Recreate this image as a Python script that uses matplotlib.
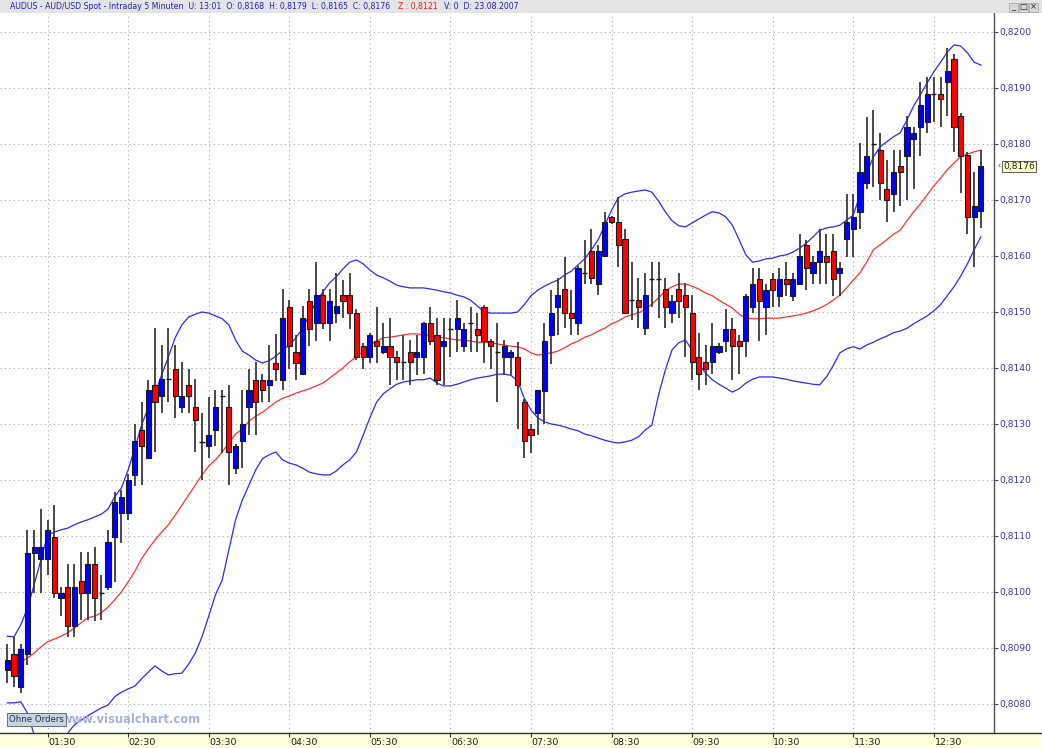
import matplotlib
matplotlib.use("Agg")
import matplotlib.pyplot as plt
import matplotlib.transforms as mtransforms
from matplotlib.patches import Rectangle
import numpy as np
import pandas as pd

# AUD/USD 5-minute candles, 23.08.2007, first candle 01:00
OPEN = [0.80860, 0.80889, 0.80831, 0.80889, 0.81069, 0.81059, 0.81059, 0.81099, 0.80989, 0.81009,
        0.80939, 0.81020, 0.80999, 0.81050, 0.80999, 0.81009, 0.81099, 0.81141, 0.81141, 0.81209,
        0.81290, 0.81240, 0.81370, 0.81350, 0.81380, 0.81399, 0.81330, 0.81370, 0.81330, 0.81268,
        0.81261, 0.81290, 0.81350, 0.81330, 0.81221, 0.81270, 0.81330, 0.81379, 0.81379, 0.81370,
        0.81409, 0.81379, 0.81509, 0.81429, 0.81389, 0.81520, 0.81480, 0.81530, 0.81480, 0.81499,
        0.81530, 0.81530, 0.81499, 0.81440, 0.81419, 0.81449, 0.81429, 0.81440, 0.81419, 0.81410,
        0.81429, 0.81419, 0.81419, 0.81480, 0.81459, 0.81440, 0.81469, 0.81469, 0.81440, 0.81480,
        0.81469, 0.81509, 0.81449, 0.81429, 0.81419, 0.81419, 0.81419, 0.81340, 0.81291, 0.81319,
        0.81359, 0.81459, 0.81509, 0.81541, 0.81499, 0.81480, 0.81570, 0.81609, 0.81550, 0.81600,
        0.81669, 0.81660, 0.81630, 0.81521, 0.81521, 0.81471, 0.81559, 0.81559, 0.81541, 0.81499,
        0.81541, 0.81530, 0.81499, 0.81420, 0.81410, 0.81410, 0.81429, 0.81449, 0.81470, 0.81449,
        0.81449, 0.81509, 0.81559, 0.81509, 0.81559, 0.81529, 0.81559, 0.81529, 0.81550, 0.81620,
        0.81569, 0.81590, 0.81600, 0.81609, 0.81569, 0.81630, 0.81649, 0.81679, 0.81730, 0.81800,
        0.81790, 0.81720, 0.81710, 0.81761, 0.81779, 0.81809, 0.81830, 0.81840, 0.81890, 0.81890,
        0.81910, 0.81951, 0.81850, 0.81780, 0.81669, 0.8168]
HIGH = [0.80908, 0.80920, 0.80907, 0.81110, 0.81111, 0.81149, 0.81129, 0.81155, 0.81009, 0.81050,
        0.81050, 0.81071, 0.81071, 0.81080, 0.81030, 0.81111, 0.81179, 0.81182, 0.81211, 0.81300,
        0.81340, 0.81379, 0.81471, 0.81441, 0.81471, 0.81441, 0.81411, 0.81399, 0.81380, 0.81320,
        0.81349, 0.81361, 0.81361, 0.81370, 0.81265, 0.81361, 0.81399, 0.81411, 0.81390, 0.81441,
        0.81461, 0.81541, 0.81521, 0.81459, 0.81511, 0.81541, 0.81590, 0.81541, 0.81541, 0.81570,
        0.81557, 0.81570, 0.81505, 0.81445, 0.81462, 0.81509, 0.81480, 0.81489, 0.81430, 0.81459,
        0.81450, 0.81459, 0.81482, 0.81509, 0.81489, 0.81489, 0.81489, 0.81521, 0.81480, 0.81509,
        0.81498, 0.81512, 0.81452, 0.81480, 0.81450, 0.81432, 0.81446, 0.81345, 0.81300, 0.81361,
        0.81480, 0.81539, 0.81560, 0.81599, 0.81539, 0.81582, 0.81629, 0.81649, 0.81620, 0.81679,
        0.81672, 0.81706, 0.81649, 0.81590, 0.81560, 0.81569, 0.81590, 0.81590, 0.81560, 0.81530,
        0.81570, 0.81551, 0.81530, 0.81462, 0.81441, 0.81480, 0.81445, 0.81505, 0.81489, 0.81459,
        0.81532, 0.81579, 0.81579, 0.81550, 0.81569, 0.81579, 0.81590, 0.81569, 0.81640, 0.81629,
        0.81600, 0.81649, 0.81640, 0.81640, 0.81590, 0.81711, 0.81711, 0.81802, 0.81849, 0.81861,
        0.81820, 0.81771, 0.81790, 0.81790, 0.81850, 0.81830, 0.81911, 0.81919, 0.81920, 0.81920,
        0.81971, 0.81961, 0.81855, 0.81785, 0.81750, 0.8179]
LOW = [0.80838, 0.80831, 0.80819, 0.80870, 0.80999, 0.80999, 0.81030, 0.80989, 0.80958, 0.80920,
       0.80919, 0.80950, 0.80950, 0.80949, 0.80950, 0.81003, 0.81018, 0.81088, 0.81129, 0.81190,
       0.81191, 0.81240, 0.81250, 0.81320, 0.81340, 0.81310, 0.81320, 0.81320, 0.81250, 0.81200,
       0.81239, 0.81261, 0.81248, 0.81191, 0.81211, 0.81221, 0.81280, 0.81280, 0.81340, 0.81340,
       0.81376, 0.81360, 0.81399, 0.81379, 0.81389, 0.81440, 0.81449, 0.81470, 0.81449, 0.81480,
       0.81489, 0.81470, 0.81415, 0.81399, 0.81409, 0.81409, 0.81425, 0.81370, 0.81379, 0.81379,
       0.81370, 0.81388, 0.81389, 0.81441, 0.81370, 0.81370, 0.81420, 0.81429, 0.81429, 0.81429,
       0.81429, 0.81409, 0.81399, 0.81340, 0.81388, 0.81388, 0.81291, 0.81239, 0.81248, 0.81280,
       0.81300, 0.81408, 0.81459, 0.81471, 0.81459, 0.81459, 0.81550, 0.81550, 0.81530, 0.81598,
       0.81658, 0.81581, 0.81499, 0.81485, 0.81471, 0.81459, 0.81509, 0.81490, 0.81471, 0.81480,
       0.81490, 0.81420, 0.81379, 0.81361, 0.81370, 0.81389, 0.81425, 0.81429, 0.81379, 0.81389,
       0.81419, 0.81499, 0.81449, 0.81459, 0.81509, 0.81509, 0.81529, 0.81520, 0.81548, 0.81539,
       0.81550, 0.81550, 0.81550, 0.81529, 0.81529, 0.81599, 0.81599, 0.81649, 0.81720, 0.81724,
       0.81700, 0.81660, 0.81679, 0.81690, 0.81700, 0.81720, 0.81779, 0.81820, 0.81840, 0.81830,
       0.81850, 0.81786, 0.81712, 0.81639, 0.81580, 0.8165]
CLOSE = [0.80879, 0.80850, 0.80899, 0.81069, 0.81080, 0.81080, 0.81110, 0.80999, 0.80999, 0.80939,
         0.81009, 0.80999, 0.81050, 0.80989, 0.80999, 0.81090, 0.81161, 0.81170, 0.81200, 0.81270,
         0.81261, 0.81361, 0.81340, 0.81380, 0.81380, 0.81350, 0.81350, 0.81350, 0.81308, 0.81268,
         0.81280, 0.81330, 0.81350, 0.81250, 0.81261, 0.81300, 0.81361, 0.81340, 0.81360, 0.81379,
         0.81399, 0.81489, 0.81440, 0.81409, 0.81489, 0.81470, 0.81530, 0.81480, 0.81520, 0.81511,
         0.81520, 0.81499, 0.81419, 0.81419, 0.81459, 0.81440, 0.81440, 0.81419, 0.81410, 0.81410,
         0.81410, 0.81429, 0.81480, 0.81449, 0.81379, 0.81449, 0.81469, 0.81489, 0.81469, 0.81480,
         0.81459, 0.81449, 0.81440, 0.81429, 0.81440, 0.81429, 0.81370, 0.81270, 0.81280, 0.81361,
         0.81449, 0.81499, 0.81530, 0.81499, 0.81489, 0.81579, 0.81570, 0.81560, 0.81609, 0.81660,
         0.81660, 0.81620, 0.81499, 0.81521, 0.81509, 0.81530, 0.81559, 0.81559, 0.81509, 0.81520,
         0.81520, 0.81509, 0.81410, 0.81390, 0.81399, 0.81440, 0.81440, 0.81470, 0.81440, 0.81440,
         0.81529, 0.81550, 0.81520, 0.81539, 0.81539, 0.81559, 0.81550, 0.81559, 0.81600, 0.81579,
         0.81590, 0.81609, 0.81590, 0.81559, 0.81579, 0.81660, 0.81669, 0.81750, 0.81779, 0.81800,
         0.81730, 0.81700, 0.81750, 0.81750, 0.81830, 0.81820, 0.81870, 0.81889, 0.81890, 0.81880,
         0.81930, 0.81830, 0.81779, 0.81669, 0.81690, 0.8176]

# Bollinger bands (20) as shown on the chart
MA20 = [0.80861, 0.80866, 0.80875, 0.80882, 0.80891, 0.80902, 0.80911, 0.80916, 0.80921, 0.80927,
        0.80936, 0.80945, 0.80954, 0.80957, 0.80963, 0.80973, 0.80986, 0.81000, 0.81018, 0.81037,
        0.81059, 0.81077, 0.81093, 0.81107, 0.81120, 0.81137, 0.81155, 0.81173, 0.81191, 0.81209,
        0.81225, 0.81236, 0.81250, 0.81266, 0.81282, 0.81291, 0.81305, 0.81314, 0.81321, 0.81330,
        0.81339, 0.81346, 0.81350, 0.81355, 0.81359, 0.81363, 0.81368, 0.81373, 0.81382, 0.81391,
        0.81400, 0.81411, 0.81420, 0.81430, 0.81441, 0.81448, 0.81454, 0.81455, 0.81457, 0.81459,
        0.81461, 0.81461, 0.81459, 0.81459, 0.81455, 0.81454, 0.81452, 0.81450, 0.81450, 0.81448,
        0.81446, 0.81446, 0.81445, 0.81443, 0.81441, 0.81439, 0.81438, 0.81434, 0.81427, 0.81423,
        0.81425, 0.81427, 0.81430, 0.81436, 0.81443, 0.81448, 0.81455, 0.81459, 0.81466, 0.81471,
        0.81479, 0.81484, 0.81491, 0.81495, 0.81498, 0.81505, 0.81514, 0.81525, 0.81538, 0.81545,
        0.81550, 0.81550, 0.81546, 0.81541, 0.81534, 0.81529, 0.81521, 0.81514, 0.81507, 0.81496,
        0.81489, 0.81488, 0.81488, 0.81489, 0.81489, 0.81489, 0.81491, 0.81493, 0.81495, 0.81498,
        0.81502, 0.81507, 0.81513, 0.81521, 0.81530, 0.81543, 0.81557, 0.81570, 0.81589, 0.81611,
        0.81620, 0.81629, 0.81639, 0.81646, 0.81663, 0.81679, 0.81693, 0.81709, 0.81725, 0.81739,
        0.81754, 0.81766, 0.81777, 0.81782, 0.81786, 0.81789]
BB_UP = [0.80921, 0.80920, 0.80941, 0.80971, 0.81013, 0.81057, 0.81102, 0.81107, 0.81111, 0.81114,
         0.81120, 0.81125, 0.81129, 0.81134, 0.81139, 0.81148, 0.81170, 0.81186, 0.81218, 0.81257,
         0.81298, 0.81329, 0.81355, 0.81388, 0.81420, 0.81454, 0.81477, 0.81491, 0.81496, 0.81500,
         0.81498, 0.81493, 0.81488, 0.81477, 0.81450, 0.81430, 0.81423, 0.81414, 0.81409, 0.81413,
         0.81421, 0.81432, 0.81441, 0.81454, 0.81471, 0.81495, 0.81518, 0.81536, 0.81552, 0.81563,
         0.81577, 0.81589, 0.81593, 0.81586, 0.81575, 0.81566, 0.81561, 0.81555, 0.81548, 0.81545,
         0.81543, 0.81543, 0.81543, 0.81541, 0.81539, 0.81536, 0.81534, 0.81530, 0.81527, 0.81521,
         0.81511, 0.81500, 0.81498, 0.81498, 0.81498, 0.81498, 0.81500, 0.81513, 0.81529, 0.81539,
         0.81546, 0.81552, 0.81557, 0.81566, 0.81573, 0.81584, 0.81595, 0.81611, 0.81629, 0.81655,
         0.81682, 0.81704, 0.81711, 0.81714, 0.81716, 0.81718, 0.81714, 0.81698, 0.81679, 0.81663,
         0.81654, 0.81652, 0.81659, 0.81666, 0.81673, 0.81679, 0.81677, 0.81670, 0.81655, 0.81629,
         0.81602, 0.81589, 0.81591, 0.81595, 0.81596, 0.81600, 0.81602, 0.81607, 0.81614, 0.81623,
         0.81634, 0.81646, 0.81650, 0.81652, 0.81655, 0.81664, 0.81673, 0.81709, 0.81748, 0.81777,
         0.81795, 0.81804, 0.81813, 0.81820, 0.81843, 0.81868, 0.81888, 0.81909, 0.81929, 0.81946,
         0.81964, 0.81977, 0.81975, 0.81963, 0.81946, 0.81941]
BB_LO = [0.80802, 0.80802, 0.80804, 0.80784, 0.80745, 0.80727, 0.80718, 0.80714, 0.80727, 0.80748,
         0.80763, 0.80771, 0.80779, 0.80786, 0.80793, 0.80798, 0.80813, 0.80821, 0.80827, 0.80832,
         0.80845, 0.80857, 0.80868, 0.80859, 0.80852, 0.80854, 0.80855, 0.80871, 0.80891, 0.80920,
         0.80957, 0.80995, 0.81021, 0.81075, 0.81129, 0.81164, 0.81191, 0.81218, 0.81238, 0.81245,
         0.81250, 0.81236, 0.81230, 0.81227, 0.81221, 0.81214, 0.81211, 0.81209, 0.81209, 0.81216,
         0.81227, 0.81236, 0.81250, 0.81280, 0.81311, 0.81339, 0.81354, 0.81363, 0.81371, 0.81375,
         0.81377, 0.81379, 0.81379, 0.81382, 0.81373, 0.81368, 0.81368, 0.81371, 0.81375, 0.81379,
         0.81382, 0.81384, 0.81386, 0.81389, 0.81389, 0.81387, 0.81377, 0.81346, 0.81325, 0.81311,
         0.81304, 0.81300, 0.81298, 0.81295, 0.81291, 0.81288, 0.81282, 0.81279, 0.81275, 0.81271,
         0.81268, 0.81266, 0.81268, 0.81271, 0.81277, 0.81289, 0.81298, 0.81352, 0.81396, 0.81432,
         0.81445, 0.81450, 0.81432, 0.81407, 0.81391, 0.81379, 0.81371, 0.81364, 0.81357, 0.81363,
         0.81373, 0.81380, 0.81384, 0.81384, 0.81384, 0.81382, 0.81380, 0.81377, 0.81375, 0.81373,
         0.81371, 0.81370, 0.81384, 0.81404, 0.81427, 0.81434, 0.81438, 0.81434, 0.81441, 0.81446,
         0.81452, 0.81457, 0.81463, 0.81466, 0.81471, 0.81479, 0.81486, 0.81493, 0.81502, 0.81513,
         0.81529, 0.81545, 0.81564, 0.81586, 0.81611, 0.81634]

PRICE_TICKS = [0.8080, 0.8090, 0.8100, 0.8110, 0.8120, 0.8130, 0.8140,
               0.8150, 0.8160, 0.8170, 0.8180, 0.8190, 0.8200]
START = "2007-08-23 01:00"
LAST_UPDATE = "13:01"
Z_VALUE = 0.8121


def fmt(v):
    return f"{v:.4f}".replace(".", ",")


W, H = 1042, 748


def box(l, t, r, b):
    return [l / W, 1 - b / H, (r - l) / W, (b - t) / H]


n = len(OPEN)
idx = np.arange(n)
o, h, l, c = map(np.array, (OPEN, HIGH, LOW, CLOSE))
times = pd.date_range(START, periods=n, freq="5min")
tick_idx = [i for i, t in enumerate(times) if t.minute == 30]
tick_lab = [times[i].strftime("%H:%M") for i in tick_idx]

fig = plt.figure(figsize=(W / 100, H / 100), dpi=100)
fig.patch.set_facecolor("white")

# main chart
ax = fig.add_axes(box(0, 13, 994, 733))
step = 6.714
xlo, xhi = -7.3 / step, (994 - 7.3) / step
ax.set_xlim(xlo, xhi)
ax.set_ylim(0.807482, 0.820339)

ax.set_yticks(PRICE_TICKS)
ax.set_yticklabels([fmt(v) for v in PRICE_TICKS])
ax.yaxis.tick_right()
ax.tick_params(axis="y", direction="out", length=3, width=0.8, color="#505050",
               labelsize=6.6, labelcolor="#3a3a9a", pad=1)
ax.set_xticks(tick_idx)
ax.tick_params(axis="x", length=0, labelbottom=False)
ax.grid(True, color="#a8a8a8", linestyle=(0, (1, 3)), linewidth=0.8)
for s in ("top", "left", "bottom"):
    ax.spines[s].set_visible(False)
ax.spines["right"].set_color("#505050")
ax.spines["right"].set_linewidth(1.0)

# bands
ax.plot(idx, BB_UP, color="#2a2aff", lw=0.9, zorder=2)
ax.plot(idx, BB_LO, color="#2a2aff", lw=0.9, zorder=2)
ax.plot(idx, MA20, color="#ff3030", lw=0.9, zorder=2)

# candles
ax.vlines(idx, l, h, color="#3a3a3a", lw=1.3, zorder=3)
up = c > o
dn = c < o
doji = c == o
bw = 0.76
ax.bar(idx[up], (c - o)[up], bottom=o[up], width=bw, color="#0000ff",
       edgecolor="#1a1a1a", linewidth=0.8, zorder=4)
ax.bar(idx[dn], (o - c)[dn], bottom=c[dn], width=bw, color="#ff0000",
       edgecolor="#1a1a1a", linewidth=0.8, zorder=4)
ax.hlines(c[doji], idx[doji] - bw / 2, idx[doji] + bw / 2, color="#1a1a1a",
          lw=1.0, zorder=4)

# last price marker
yb = mtransforms.blended_transform_factory(ax.transAxes, ax.transData)
ax.text(1.003, c[-1], "\u2039", transform=yb, fontsize=6, color="#404040",
        va="center", ha="left", clip_on=False)
ax.text(1.009, c[-1], fmt(c[-1]), transform=yb, fontsize=6.6, color="#202020",
        va="center", ha="left", clip_on=False,
        bbox=dict(boxstyle="square,pad=0.12", fc="#ffffc8", ec="#404040", lw=0.6))

# watermark and order box
ax.text(0.062, 0.019, "www.visualchart.com", transform=ax.transAxes, fontsize=8.3,
        fontweight="bold", color="#aab0d8", va="center", ha="left", zorder=6)
ax.text(0.009, 0.019, "Ohne Orders", transform=ax.transAxes, fontsize=6.2,
        color="#203050", va="center", ha="left", zorder=7,
        bbox=dict(boxstyle="square,pad=0.25", fc="#c8d4de", ec="#506070", lw=0.6))

# time bar at the bottom
bx = fig.add_axes(box(0, 733, 1042, 748))
bx.set_facecolor("#ffffdc")
bx.set_xlim(xlo, xlo + (xhi - xlo) * W / 994)
bx.set_ylim(0, 1)
bx.set_yticks([])
bx.set_xticks(tick_idx)
bx.tick_params(axis="x", top=True, bottom=False, direction="in", length=3,
               width=0.8, color="#303030", labelbottom=False, labeltop=False)
for s in ("left", "right", "bottom"):
    bx.spines[s].set_visible(False)
bx.spines["top"].set_color("#303030")
bx.spines["top"].set_linewidth(1.0)
xb = mtransforms.blended_transform_factory(bx.transData, bx.transAxes)
for t, lab in zip(tick_idx, tick_lab):
    bx.text(t + 0.1, 0.38, lab, transform=xb, fontsize=6.8, color="#202020",
            ha="left", va="center")

# title bar: three segments in one size, laid out left to right
fig.patches.append(Rectangle((0, 1 - 13 / H), 1, 13 / H, transform=fig.transFigure,
                             facecolor="#e4e4e4", edgecolor="none", zorder=0))
ty = 1 - 6.5 / H
segments = [
    (f"AUDUS - AUD/USD Spot - Intraday 5 Minuten  U: {LAST_UPDATE}  "
     f"O: {fmt(o[-1])}  H: {fmt(h[-1])}  L: {fmt(l[-1])}  C: {fmt(c[-1])}", "#2020b8"),
    (f"Z : {fmt(Z_VALUE)}", "#e02020"),
    ("V: 0  D: 23.08.2007", "#2020b8"),
]
renderer = fig.canvas.get_renderer()
texts = [fig.text(0, ty, s, fontsize=6.0, color=col, va="center", ha="left")
         for s, col in segments]
widths = [t.get_window_extent(renderer).width for t in texts]
gap = 7
fs = 6.0 * (509 - 2 * gap) / sum(widths)
xpos = 10
for t, wpx in zip(texts, widths):
    t.set_fontsize(fs)
    t.set_x(xpos / W)
    xpos += wpx * fs / 6.0 + gap

# window buttons
for k, sym in enumerate(["_", "\u25a1", "\u00d7"]):
    bxx = 1009 + k * 10
    fig.patches.append(Rectangle((bxx / W, 1 - 12 / H), 9 / W, 9 / H,
                                 transform=fig.transFigure, facecolor="#d8d8d8",
                                 edgecolor="#a0a0a0", lw=0.5))
    fig.text((bxx + 4.5) / W, 1 - 7 / H, sym, fontsize=6, color="#202020",
             ha="center", va="center")

fig.savefig("out.png", dpi=100)
